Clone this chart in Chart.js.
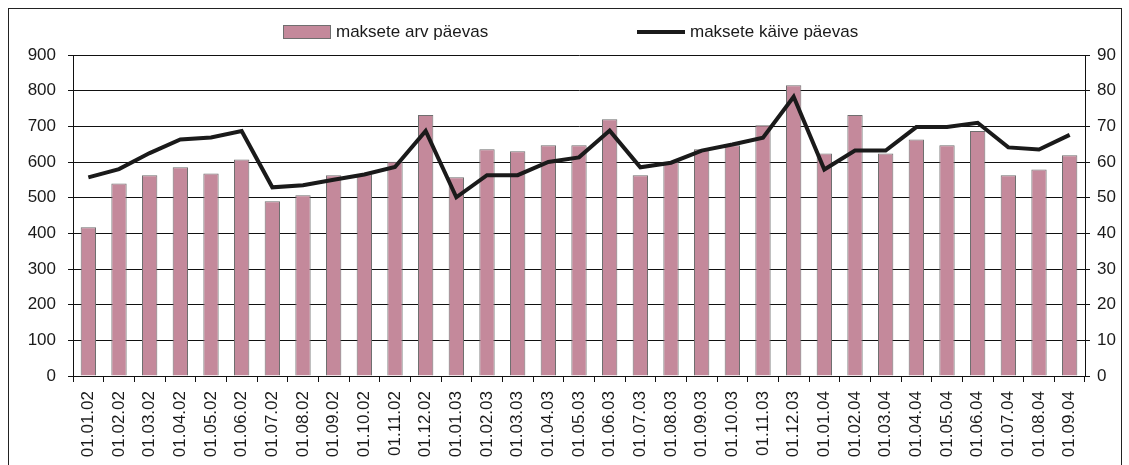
<!DOCTYPE html>
<html lang="et">
<head>
<meta charset="utf-8">
<title>Maksed päevas</title>
<script src="https://cdn.jsdelivr.net/npm/chart.js@4/dist/chart.umd.min.js"></script>
<style>
    html, body { margin: 0; padding: 0; background: #fff; }
    #wrap { position: relative; width: 1129px; height: 465px; overflow: hidden; }
    #frame { position: absolute; left: 8px; top: 8px; width: 1112px; height: 500px; border: 1px solid #222; pointer-events: none; }
    .legend-item { position: absolute; font: 17px 'Liberation Sans', Arial, sans-serif; color: #1a1a1a; line-height: 20px; white-space: nowrap; }
    .swatch { position: absolute; }
</style>
</head>
<body>
<div id="wrap">
    <canvas id="chart" width="1129" height="465"></canvas>
    <div id="frame"></div>
    <div id="legend"></div>
</div>
<script>
// --- andmed ---
const months = [
    '01.01.02', '01.02.02', '01.03.02', '01.04.02', '01.05.02', '01.06.02', '01.07.02', '01.08.02', '01.09.02',
    '01.10.02', '01.11.02', '01.12.02', '01.01.03', '01.02.03', '01.03.03', '01.04.03', '01.05.03', '01.06.03',
    '01.07.03', '01.08.03', '01.09.03', '01.10.03', '01.11.03', '01.12.03', '01.01.04', '01.02.04', '01.03.04',
    '01.04.04', '01.05.04', '01.06.04', '01.07.04', '01.08.04', '01.09.04'
];

// maksete arv päevas (vasak telg)
const paymentCount = [
    417, 540, 563, 585, 568, 607, 490, 507, 563, 566, 601, 732, 557, 636, 630, 647, 647,
    720, 563, 600, 636, 647, 703, 815, 624, 732, 624, 663, 647, 687, 563, 579, 619
];

// maksete käive päevas (parem telg)
const paymentTurnover = [
    55.7, 58.0, 62.5, 66.3, 66.9, 68.7, 52.9, 53.5, 55.0, 56.5, 58.6, 68.7, 50.1, 56.3, 56.3, 60.0, 61.3,
    68.8, 58.5, 59.8, 63.2, 64.9, 66.8, 78.3, 57.9, 63.2, 63.2, 69.8, 69.8, 71.0, 64.1, 63.5, 67.6
];

const seriesNames = ['maksete arv päevas', 'maksete käive päevas'];

const BAR_COLOR = '#c4899b';
const BAR_EDGE = '#6f6f6f';
const LINE_COLOR = '#1a1a1a';
const AXIS_COLOR = '#111';

Chart.defaults.font.family = "'Liberation Sans', Arial, sans-serif";
Chart.defaults.font.size = 17;
Chart.defaults.color = '#1a1a1a';

// --- legend (HTML) ---
const legend = document.getElementById('legend');
legend.innerHTML =
    `<div class="swatch" style="left:283px;top:25px;width:46px;height:12px;background:${BAR_COLOR};border:1px solid ${BAR_EDGE};"></div>` +
    `<div class="legend-item" style="left:336px;top:22px;">${seriesNames[0]}</div>` +
    `<div class="swatch" style="left:637px;top:30px;width:48px;height:4px;background:${LINE_COLOR};"></div>` +
    `<div class="legend-item" style="left:690px;top:22px;">${seriesNames[1]}</div>`;

// --- graafik ---
new Chart(document.getElementById('chart'), {
    data: {
        labels: months,
        datasets: [
            {
                type: 'line',
                label: seriesNames[1],
                data: paymentTurnover,
                yAxisID: 'y2',
                borderColor: LINE_COLOR,
                borderWidth: 4,
                pointRadius: 0,
                tension: 0,
                order: 0
            },
            {
                type: 'bar',
                label: seriesNames[0],
                data: paymentCount,
                yAxisID: 'y',
                backgroundColor: BAR_COLOR,
                borderColor: BAR_EDGE,
                borderWidth: 1,
                categoryPercentage: 1,
                barPercentage: 0.5,
                order: 1
            }
        ]
    },
    options: {
        responsive: false,
        animation: false,
        layout: { padding: { top: 55, left: 0, right: 0, bottom: 0 } },
        plugins: {
            legend: { display: false },
            tooltip: { enabled: false }
        },
        scales: {
            x: {
                offset: true,
                afterFit: (scale) => { scale.height = 89; },
                grid: { drawOnChartArea: false, drawTicks: true, tickLength: 6, color: AXIS_COLOR },
                border: { color: AXIS_COLOR, width: 1 },
                ticks: { autoSkip: false, minRotation: 90, maxRotation: 90, padding: 9 }
            },
            y: {
                position: 'left',
                min: 0,
                max: 900,
                afterFit: (scale) => { scale.width = 73; },
                grid: { color: AXIS_COLOR, lineWidth: 1, tickLength: 5 },
                border: { color: AXIS_COLOR, width: 1 },
                ticks: { stepSize: 100, padding: 12 }
            },
            y2: {
                position: 'right',
                min: 0,
                max: 90,
                afterFit: (scale) => { scale.width = 44; },
                grid: { drawOnChartArea: false, color: AXIS_COLOR, tickLength: 5 },
                border: { color: AXIS_COLOR, width: 1 },
                ticks: { stepSize: 10, padding: 7 }
            }
        }
    }
});
</script>
</body>
</html>
